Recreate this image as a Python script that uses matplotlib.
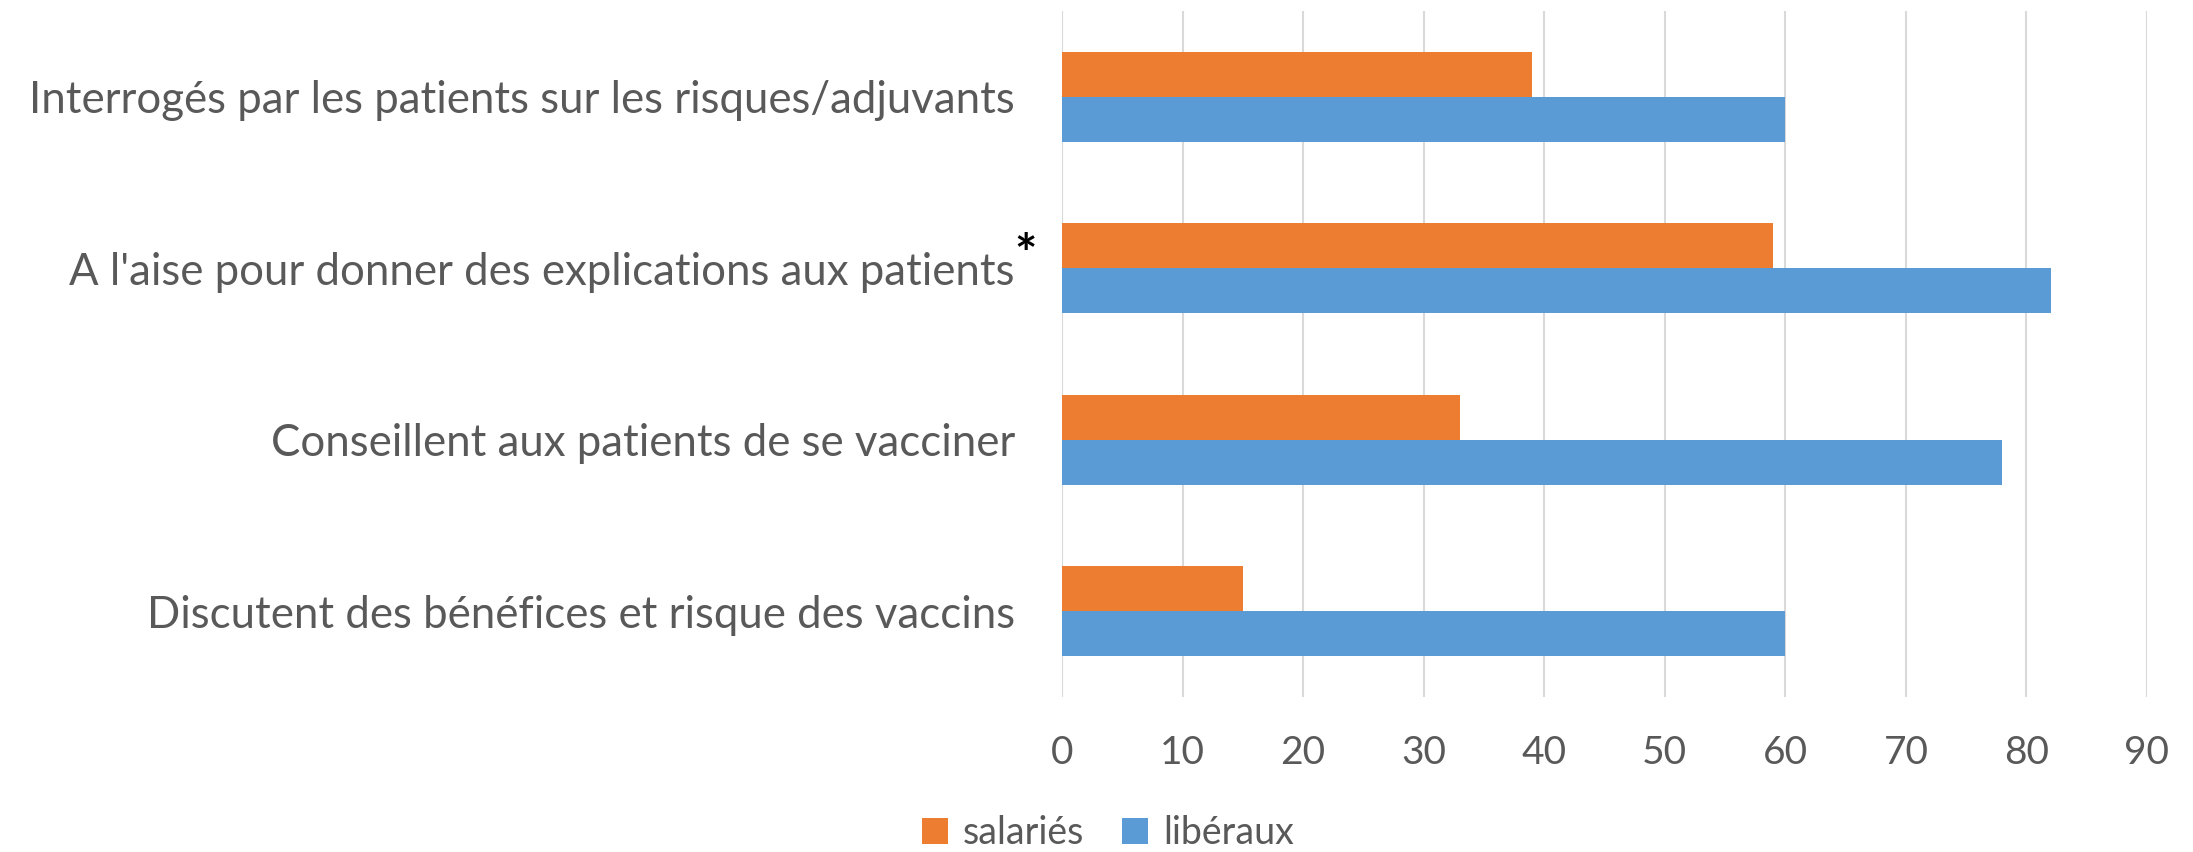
import matplotlib.pyplot as plt
import numpy as np

plt.rcParams['font.family'] = ['Lato', 'DejaVu Sans']

categories = ["Interrogés par les patients sur les risques/adjuvants",
              "A l'aise pour donner des explications aux patients",
              "Conseillent aux patients de se vacciner",
              "Discutent des bénéfices et risque des vaccins"]
salaries = [39, 59, 33, 15]
liberaux = [60, 82, 78, 60]
xticks = [0, 10, 20, 30, 40, 50, 60, 70, 80, 90]

orange = '#ED7D31'
blue = '#5B9BD5'
grey = '#595959'

fig = plt.figure(figsize=(21.93, 8.52), dpi=100)
ax = fig.add_axes([1062 / 2193, 1 - 697 / 852, 1085 / 2193, 686 / 852])

y = np.arange(len(categories))
h = 0.263
ax.barh(y - h / 2, salaries, height=h, color=orange, label='salariés', zorder=3)
ax.barh(y + h / 2, liberaux, height=h, color=blue, label='libéraux', zorder=3)

ax.set_ylim(len(categories) - 0.5, -0.5)
ax.set_xlim(0, 90)
ax.set_xticks(xticks)
ax.set_yticks(y)
ax.set_yticklabels(categories)
ax.grid(axis='x', color='#D9D9D9', linewidth=1.5, zorder=0)
for s in ax.spines.values():
    s.set_visible(False)
ax.tick_params(axis='both', length=0, labelcolor=grey)
ax.tick_params(axis='y', pad=34, labelsize=31.5)
ax.tick_params(axis='x', pad=27, labelsize=28)

# significance star
ax.annotate('*', xy=(-0.034, 1 - 0.06), xycoords=('axes fraction', 'data'),
            ha='center', va='center', fontsize=38, fontweight='bold', color='black')

leg = fig.legend(loc='center', bbox_to_anchor=(1108 / 2193, 1 - 833 / 852), ncol=2,
                 frameon=False, fontsize=27, handlelength=0.7, handleheight=0.7,
                 handletextpad=0.4, columnspacing=1.0)
for t in leg.get_texts():
    t.set_color(grey)

fig.savefig('out.png', dpi=100)
